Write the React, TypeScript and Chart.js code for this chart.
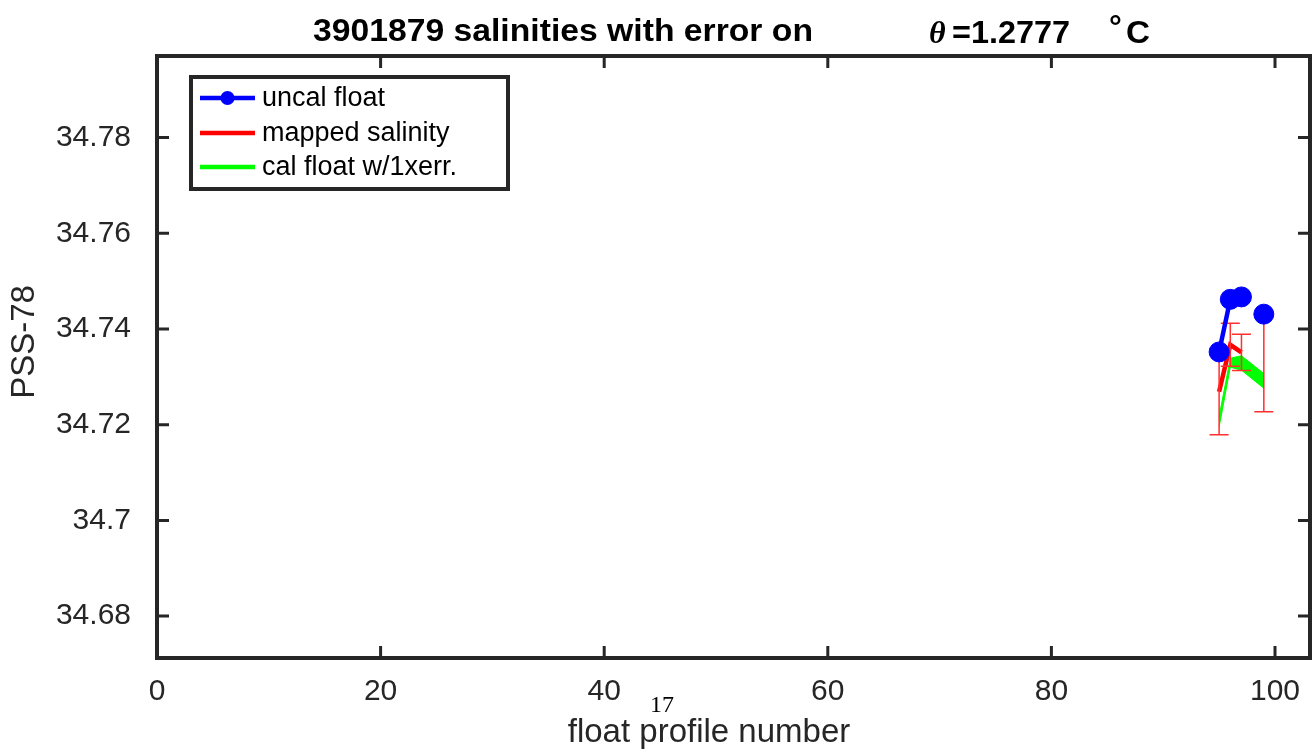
import React, { useEffect, useRef } from 'react';
import { Chart, registerables } from 'chart.js';

Chart.register(...registerables);

// ---------- data ----------
const profiles = [95, 96, 97, 98, 99];
const uncalFloat = [34.7352, 34.7462, 34.7467, null, 34.7431];
const mappedSal = [34.7269, 34.7367, 34.7351, null, 34.7327];
const mappedErr = [0.009, 0.0045, 0.0038, null, 0.01];
const calUpper = [34.7217, 34.7339, 34.7344, null, 34.7307];
const calLower = [34.7195, 34.732, 34.7314, null, 34.7276];

const xTicks = [0, 20, 40, 60, 80, 100];
const xTickLabels = ['0', '20', '40', '60', '80', '100'];
const yTicks = [34.68, 34.7, 34.72, 34.74, 34.76, 34.78];
const yTickLabels = ['34.68', '34.7', '34.72', '34.74', '34.76', '34.78'];

const titleMain = '3901879 salinities with error on';
const titleTheta = 'θ';
const titleValue = '=1.2777';
const titleDegree = '°';
const titleUnit = 'C';
const xLabel = 'float profile number';
const yLabel = 'PSS-78';
const strayText = '17';
const legendLabels = ['uncal float', 'mapped salinity', 'cal float w/1xerr.'];

const X_MIN = 0;
const X_MAX = 103.13;
const Y_MIN = 34.67124;
const Y_MAX = 34.79705;

const AXIS_COLOR = '#262626';
const BLUE = '#0000ff';
const RED = '#ff0000';
const GREEN = '#00ff00';

function fitText(ctx: CanvasRenderingContext2D, text: string, x0: number, x1: number, y: number) {
  const w = ctx.measureText(text).width;
  const sx = (x1 - x0) / w;
  ctx.save();
  ctx.translate(x0, y);
  ctx.scale(sx, 1);
  ctx.textAlign = 'left';
  ctx.fillText(text, 0, 0);
  ctx.restore();
}

const errorBarPlugin = {
  id: 'errorBars',
  afterDatasetDraw(chart: any, args: any) {
    if (args.index !== 1) return;
    const ctx = chart.ctx;
    const xs = chart.scales.x;
    const ys = chart.scales.y;
    ctx.save();
    ctx.strokeStyle = '#ff3030';
    ctx.lineWidth = 1.5;
    const cap = 9.5;
    for (let i = 0; i < profiles.length; i++) {
      const m = mappedSal[i];
      const e = mappedErr[i];
      if (m == null || e == null) continue;
      const x = xs.getPixelForValue(profiles[i]);
      const yt = ys.getPixelForValue(m + e);
      const yb = ys.getPixelForValue(m - e);
      ctx.beginPath();
      ctx.moveTo(x, yt);
      ctx.lineTo(x, yb);
      ctx.moveTo(x - cap, yt);
      ctx.lineTo(x + cap, yt);
      ctx.moveTo(x - cap, yb);
      ctx.lineTo(x + cap, yb);
      ctx.stroke();
    }
    ctx.restore();
  },
};

const decorPlugin = {
  id: 'decor',
  afterDraw(chart: any) {
    const ctx: CanvasRenderingContext2D = chart.ctx;
    const a = chart.chartArea;
    const xs = chart.scales.x;
    const ys = chart.scales.y;
    ctx.save();
    // frame
    ctx.strokeStyle = AXIS_COLOR;
    ctx.lineWidth = 4;
    ctx.strokeRect(a.left, a.top, a.right - a.left, a.bottom - a.top);
    // inward ticks
    const tl = 12;
    ctx.lineWidth = 3;
    ctx.beginPath();
    for (const v of xTicks) {
      const x = xs.getPixelForValue(v);
      ctx.moveTo(x, a.bottom);
      ctx.lineTo(x, a.bottom - tl);
      ctx.moveTo(x, a.top);
      ctx.lineTo(x, a.top + tl);
    }
    for (const v of yTicks) {
      const y = ys.getPixelForValue(v);
      ctx.moveTo(a.left, y);
      ctx.lineTo(a.left + tl, y);
      ctx.moveTo(a.right, y);
      ctx.lineTo(a.right - tl, y);
    }
    ctx.stroke();

    // x tick labels
    ctx.fillStyle = AXIS_COLOR;
    ctx.font = '30px "Liberation Sans"';
    ctx.textAlign = 'center';
    ctx.textBaseline = 'alphabetic';
    xTicks.forEach((v, i) => {
      ctx.fillText(xTickLabels[i], xs.getPixelForValue(v), a.bottom + 42);
    });

    // title
    ctx.fillStyle = '#000000';
    ctx.textBaseline = 'alphabetic';
    ctx.font = 'bold 32px "Liberation Sans"';
    fitText(ctx, titleMain, 313, 813, 41);
    ctx.font = 'italic bold 32px "Liberation Serif"';
    ctx.textAlign = 'left';
    ctx.fillText(titleTheta, 929, 43);
    ctx.font = 'bold 32px "Liberation Sans"';
    fitText(ctx, titleValue, 952, 1070, 43);
    ctx.fillText(titleDegree, 1109, 37);
    fitText(ctx, titleUnit, 1126, 1150, 43);

    // axis labels
    ctx.fillStyle = AXIS_COLOR;
    ctx.font = '33px "Liberation Sans"';
    ctx.textAlign = 'center';
    ctx.fillText(xLabel, 709, 742);
    ctx.save();
    ctx.translate(25, 342);
    ctx.rotate(-Math.PI / 2);
    ctx.textBaseline = 'middle';
    ctx.fillText(yLabel, 0, 0);
    ctx.restore();

    // stray text
    ctx.fillStyle = '#000000';
    ctx.font = '24px "Liberation Serif"';
    ctx.textAlign = 'left';
    ctx.textBaseline = 'alphabetic';
    ctx.fillText(strayText, 650, 712);

    // legend
    const bx = 191, by = 77, bw = 317, bh = 112;
    ctx.fillStyle = '#ffffff';
    ctx.fillRect(bx, by, bw, bh);
    ctx.strokeStyle = AXIS_COLOR;
    ctx.lineWidth = 4;
    ctx.strokeRect(bx, by, bw, bh);
    const rows = [98, 133, 167];
    const cols = [BLUE, RED, GREEN];
    ctx.font = '27px "Liberation Sans"';
    ctx.textBaseline = 'middle';
    for (let i = 0; i < 3; i++) {
      ctx.strokeStyle = cols[i];
      ctx.lineWidth = 4.5;
      ctx.beginPath();
      ctx.moveTo(200, rows[i]);
      ctx.lineTo(255, rows[i]);
      ctx.stroke();
      if (i === 0) {
        ctx.fillStyle = BLUE;
        ctx.beginPath();
        ctx.arc(227.5, rows[i], 7, 0, Math.PI * 2);
        ctx.fill();
      }
      ctx.fillStyle = '#000000';
      ctx.fillText(legendLabels[i], 262, rows[i] + 1);
    }
    ctx.restore();
  },
};

export default function App() {
  const ref = useRef<HTMLCanvasElement | null>(null);
  useEffect(() => {
    if (!ref.current) return;
    const chart = new Chart(ref.current, {
      type: 'line',
      data: {
        datasets: [
          {
            label: legendLabels[0],
            data: profiles.map((p, i) => ({ x: p, y: uncalFloat[i] })),
            borderColor: BLUE,
            backgroundColor: BLUE,
            borderWidth: 4.5,
            pointRadius: 10,
            pointStyle: 'circle',
            pointBackgroundColor: BLUE,
            pointBorderColor: BLUE,
            pointBorderWidth: 1,
            spanGaps: false,
            order: 0,
          },
          {
            label: legendLabels[1],
            data: profiles.map((p, i) => ({ x: p, y: mappedSal[i] })),
            borderColor: RED,
            backgroundColor: RED,
            borderWidth: 4.5,
            pointRadius: 0,
            spanGaps: false,
            order: 1,
          },
          {
            label: legendLabels[2],
            data: profiles.map((p, i) => ({ x: p, y: calUpper[i] })),
            borderColor: GREEN,
            backgroundColor: GREEN,
            borderWidth: 1,
            pointRadius: 0,
            spanGaps: true,
            fill: false,
            order: 2,
          },
          {
            label: 'cal lower',
            data: profiles.map((p, i) => ({ x: p, y: calLower[i] })),
            borderColor: GREEN,
            backgroundColor: GREEN,
            borderWidth: 1,
            pointRadius: 0,
            spanGaps: true,
            fill: '-1',
            order: 3,
          },
        ],
      },
      options: {
        responsive: false,
        animation: false,
        devicePixelRatio: 1,
        layout: { autoPadding: false, padding: { left: 0, right: 6, top: 56, bottom: 0 } },
        plugins: {
          legend: { display: false },
          title: { display: false },
          tooltip: { enabled: false },
        },
        scales: {
          x: {
            type: 'linear',
            min: X_MIN,
            max: X_MAX,
            grid: { display: false, drawTicks: false },
            border: { display: false },
            afterBuildTicks: (s: any) => {
              s.ticks = xTicks.map((v) => ({ value: v }));
            },
            afterFit: (s: any) => {
              s.height = 96;
              s.paddingLeft = 0;
              s.paddingRight = 0;
            },
            ticks: { display: false },
          },
          y: {
            type: 'linear',
            min: Y_MIN,
            max: Y_MAX,
            grid: { display: false, drawTicks: false },
            border: { display: false },
            afterBuildTicks: (s: any) => {
              s.ticks = yTicks.map((v) => ({ value: v }));
            },
            afterFit: (s: any) => {
              s.width = 157;
              s.paddingTop = 0;
              s.paddingBottom = 0;
            },
            ticks: {
              autoSkip: false,
              padding: 26,
              color: AXIS_COLOR,
              font: { family: '"Liberation Sans"', size: 30 },
              callback: (v: any) => {
                let best = -1;
                for (let i = 0; i < yTicks.length; i++) {
                  if (Math.abs(yTicks[i] - Number(v)) < 1e-6) best = i;
                }
                return best >= 0 ? yTickLabels[best] : '';
              },
            },
          },
        },
      },
      plugins: [errorBarPlugin, decorPlugin],
    } as any);
    return () => chart.destroy();
  }, []);

  return (
    <div style={{ position: 'fixed', left: 0, top: 0, width: 1316, height: 754, background: '#ffffff' }}>
      <canvas ref={ref} width={1316} height={754} style={{ display: 'block' }} />
    </div>
  );
}
